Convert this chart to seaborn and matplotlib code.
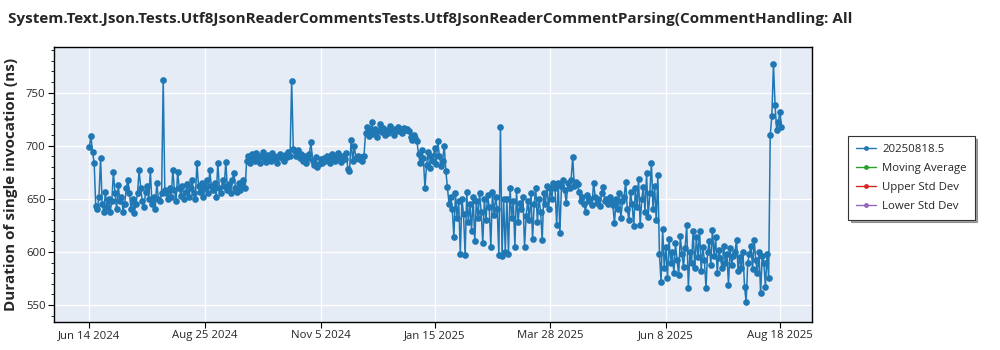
import matplotlib
matplotlib.use("Agg")
import matplotlib.pyplot as plt
from matplotlib.lines import Line2D
from matplotlib.ticker import MultipleLocator
import pandas as pd
import seaborn as sns

TITLE = "System.Text.Json.Tests.Utf8JsonReaderCommentsTests.Utf8JsonReaderCommentParsing(CommentHandling: All"
Y_LABEL = "Duration of single invocation (ns)"
LEGEND_LABELS = ["20250818.5", "Moving Average", "Upper Std Dev", "Lower Std Dev"]
LEGEND_COLORS = ["#1f77b4", "#2ca02c", "#d62728", "#9467bd"]

START_DATE = "2024-06-14"

vals_a = [699, 709, 694, 684]
vals_b = [643, 640, 652, 688, 645, 638, 656, 642, 650, 638,
          648, 675, 655, 640, 663, 648, 652, 638, 645, 660,
          668, 655, 640, 650, 637, 645, 655, 677, 660, 648,
          642, 656, 662, 650, 677, 645, 652, 640, 665, 650,
          648, 655, 762, 658]
vals_c = [655, 650, 660, 652, 677, 658, 648, 675, 660, 653,
          662, 650, 656, 664, 652, 660, 668, 655, 650, 684,
          662, 656, 665, 652, 660, 668, 655, 677, 662, 658,
          665, 652, 684, 660, 655, 668, 662, 685, 658, 664,
          655, 668, 674, 660, 656, 665, 658, 662, 668, 660]
vals_d = [686, 690, 684, 692, 688, 686, 693, 689, 684, 690,
          694, 688, 685, 691, 689, 686, 693, 690, 687, 684,
          690, 692, 688, 686, 691, 689, 694, 690, 761, 697,
          695, 690, 696, 688, 692, 686, 690, 684, 688, 692,
          703, 686, 682, 689, 680, 683, 687, 684, 688, 686,
          690, 687, 684, 692, 688, 686, 690, 693, 688, 685,
          690, 687, 693, 678, 676, 705, 686, 700, 688, 690,
          687, 689, 686, 690]
vals_e = [712, 718, 709, 715, 722, 711, 716, 708, 714, 720,
          713, 717, 710, 715, 712, 719, 714, 716, 710, 715,
          718, 714, 716, 712, 717, 715, 716, 714, 708, 705,
          710, 707, 704]
vals_f = [692, 684, 696, 688, 660, 682, 694, 679, 690, 686,
          698, 683, 704, 690, 681, 686, 700, 676]
vals_g = [661, 645, 652, 640, 614, 655, 632, 648, 598, 650,
          636, 597, 656, 628, 645, 620, 652, 610, 648, 632,
          655, 638, 608, 650, 630, 654, 642, 605, 656, 635,
          652, 640, 597, 718, 596, 650, 600]
vals_h = [650, 598, 660, 632, 648, 605, 658, 628, 646, 640,
          652, 605, 634, 648, 630, 655, 612, 645, 660, 628,
          650, 638, 611, 655, 645, 662, 640, 660, 650, 665]
vals_i = [660, 625, 665, 618, 662, 668, 658, 646, 665, 660,
          668, 689, 662, 666, 664]
vals_j = [656, 648, 652, 645, 638, 654, 648, 650, 644, 665,
          652, 646, 650, 643, 655, 661, 648, 650, 645, 652,
          648, 644, 627, 650, 640, 655, 632, 648, 652, 666,
          640, 630, 656, 645, 624, 660, 642, 669, 625, 650,
          661, 638, 674, 633, 655, 684, 640, 662, 630, 672]
vals_k = [598, 572, 622, 585, 605, 575, 612, 590, 600, 580,
          608, 592, 578, 615, 598, 586, 604, 625, 566, 600,
          590, 620, 585, 614, 595, 620, 582, 605, 592, 566,
          600, 610, 588, 621, 596, 614, 580, 602, 594, 585,
          606, 590, 598, 569, 604, 588, 596, 600, 611, 582,
          595, 585, 600, 567, 553, 590, 598, 606, 584, 611,
          592, 580, 600, 561, 596, 590, 567, 598, 575]
vals_l = [710, 728, 777, 738, 715, 722, 732, 718]

values = (vals_a + vals_b + vals_c + vals_d + vals_e + vals_f + vals_g
          + vals_h + vals_i + vals_j + vals_k + vals_l)
dates = pd.date_range(START_DATE, periods=len(values), freq="D")
df = pd.DataFrame({"date": dates, "value": values})

tick_dates = ["2024-06-14", "2024-08-25", "2024-11-05", "2025-01-15",
              "2025-03-28", "2025-06-08", "2025-08-18"]
tick_labels = ["Jun 14 2024", "Aug 25 2024", "Nov 5 2024", "Jan 15 2025",
               "Mar 28 2025", "Jun 8 2025", "Aug 18 2025"]
y_ticks = [550, 600, 650, 700, 750]

sns.set_theme(style="white")
plt.rcParams["font.family"] = ["Open Sans", "DejaVu Sans"]

fig = plt.figure(figsize=(10, 3.5), dpi=100)
ax = fig.add_axes([0.054, 0.08, 0.758, 0.786])
ax.set_facecolor("#E5ECF6")

sns.lineplot(data=df, x="date", y="value", ax=ax, color="#1f77b4",
             linewidth=1.1, marker="o", markersize=4.8,
             markeredgewidth=0, alpha=1.0, legend=False)

ax.set_xlim(pd.Timestamp("2024-05-23"), pd.Timestamp("2025-09-07"))
ax.set_ylim(534, 793)
ax.set_xticks([pd.Timestamp(d) for d in tick_dates])
ax.set_xticklabels(tick_labels, fontsize=8.2)
ax.set_yticks(y_ticks)
ax.set_yticklabels([str(v) for v in y_ticks], fontsize=8.2)
ax.yaxis.set_minor_locator(MultipleLocator(10))
ax.grid(True, which="major", color="white", linewidth=1.0)
ax.set_axisbelow(True)
ax.tick_params(axis="both", which="major", direction="out", length=4,
               width=0.8, color="black", pad=2, left=True, bottom=True)
ax.tick_params(axis="y", which="minor", direction="out", length=2,
               width=0.6, color="black", left=True)
for s in ax.spines.values():
    s.set_visible(True)
    s.set_color("black")
    s.set_linewidth(1.0)
ax.set_xlabel("")
ax.set_ylabel(Y_LABEL, fontsize=11, fontweight="bold", labelpad=6)

fig.text(0.008, 0.945, TITLE, fontsize=11, fontweight="bold",
         ha="left", va="center")

handles = [Line2D([0], [0], color=c, linewidth=1, marker="o", markersize=3.5,
                  markeredgewidth=0) for c in LEGEND_COLORS]
leg = fig.legend(handles, LEGEND_LABELS, loc="upper left",
                 bbox_to_anchor=(0.848, 0.612), fontsize=8.2,
                 frameon=True, fancybox=False, shadow=True,
                 borderpad=0.7, labelspacing=0.7, handlelength=1.8,
                 handletextpad=0.5, borderaxespad=0)
leg.get_frame().set_edgecolor("#333333")
leg.get_frame().set_linewidth(0.8)

fig.savefig("out.png", dpi=100)
